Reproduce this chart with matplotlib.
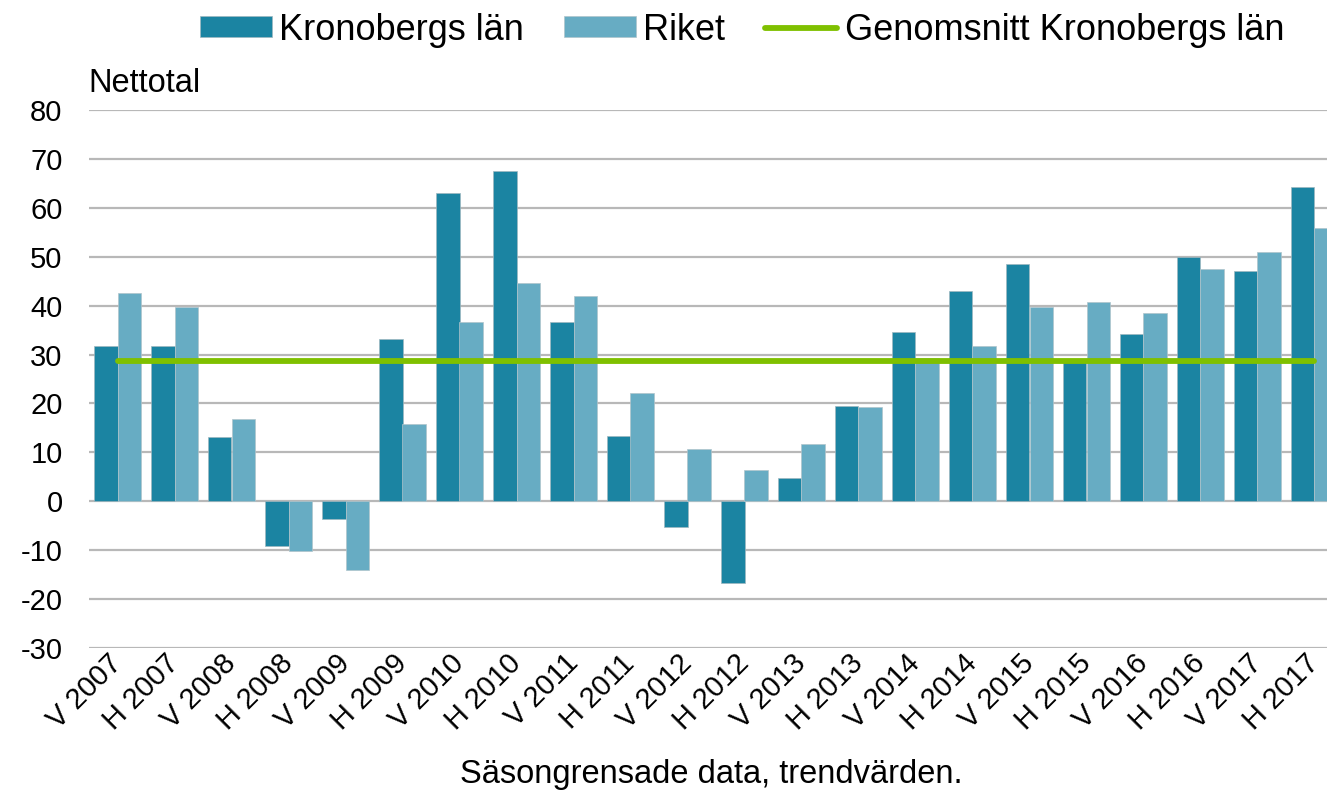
import numpy as np
import matplotlib
matplotlib.use('Agg')
import matplotlib.pyplot as plt

plt.rcParams['font.family'] = ['Liberation Sans', 'DejaVu Sans']
plt.rcParams['axes.unicode_minus'] = False

# data
periods = ['V 2007', 'H 2007', 'V 2008', 'H 2008', 'V 2009', 'H 2009',
           'V 2010', 'H 2010', 'V 2011', 'H 2011', 'V 2012', 'H 2012',
           'V 2013', 'H 2013', 'V 2014', 'H 2014', 'V 2015', 'H 2015',
           'V 2016', 'H 2016', 'V 2017', 'H 2017']
kronoberg = [31.7, 31.7, 13.1, -9.1, -3.6, 33.2, 63.1, 67.6, 36.7, 13.3, -5.3,
             -16.8, 4.7, 19.5, 34.6, 42.9, 48.5, 29.0, 34.3, 49.9, 47.0, 64.2]
riket = [42.6, 39.8, 16.9, -10.2, -14.1, 15.8, 36.7, 44.7, 41.9, 22.1, 10.6,
         6.3, 11.7, 19.3, 29.3, 31.8, 39.8, 40.8, 38.4, 47.5, 50.9, 55.8]
avg_kronoberg = 28.7

c_dark = '#1b84a2'
c_light = '#67acc3'
c_green = '#7fc000'

W, H = 1327, 792
fig = plt.figure(figsize=(W/100, H/100), dpi=100)
ax = fig.add_axes([89/W, (H-648)/H, 1254/W, 538/H])

x = np.arange(len(periods))
bw = 0.404
b1 = ax.bar(x - bw/2, kronoberg, bw, color=c_dark, edgecolor='#9fb8c0', linewidth=0.5,
            label='Kronobergs län', zorder=2)
b2 = ax.bar(x + bw/2, riket, bw, color=c_light, edgecolor='#b0c4cb', linewidth=0.5,
            label='Riket', zorder=2)
l1, = ax.plot([x[0], x[-1]], [avg_kronoberg, avg_kronoberg], color=c_green, lw=4.2,
              solid_capstyle='round', label='Genomsnitt Kronobergs län', zorder=3)

ax.set_xlim(-0.5, len(periods) - 0.5)
ax.set_ylim(-30, 80)
ax.set_yticks(np.arange(-30, 81, 10))
ax.yaxis.grid(True, color='#b8b8b8', lw=1.6, zorder=0)
ax.set_axisbelow(True)
for s in ax.spines.values():
    s.set_visible(False)
ax.tick_params(axis='both', length=0, labelsize=21)
ax.tick_params(axis='y', pad=19)
ax.set_xticks(x)
ax.set_xticklabels(periods, rotation=45, ha='right', va='center',
                   rotation_mode='anchor', fontsize=21)
ax.tick_params(axis='x', pad=8)

fig.text(88/W, 1 - 84/H, 'Nettotal', fontsize=23.5, ha='left', va='center')
fig.text(711/W, 1 - 775/H, 'Säsongrensade data, trendvärden.', fontsize=23.5,
         ha='center', va='center')

leg = fig.legend([b1, b2, l1], ['Kronobergs län', 'Riket', 'Genomsnitt Kronobergs län'],
                 loc='center', bbox_to_anchor=(742/W, 1 - 30/H), ncol=3,
                 frameon=False, fontsize=26, handlelength=2.0, handleheight=0.5,
                 handletextpad=0.2, columnspacing=1.1, borderaxespad=0)

fig.savefig('out.png', dpi=100)
